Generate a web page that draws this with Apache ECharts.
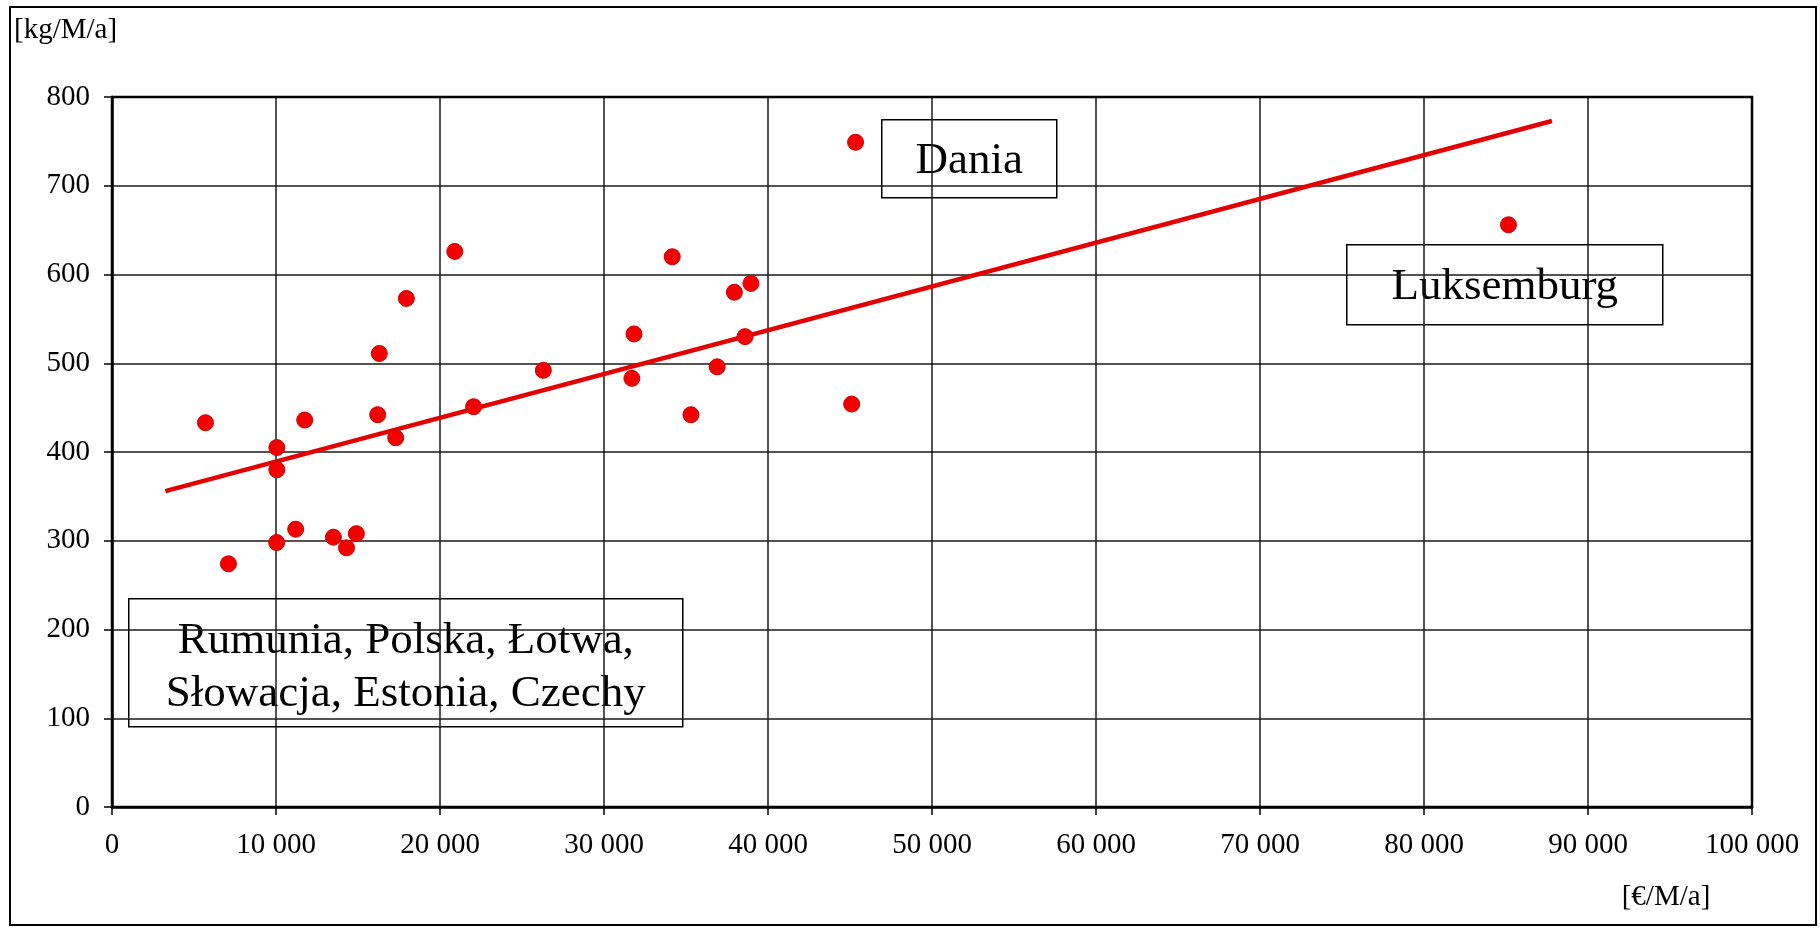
<!DOCTYPE html>
<html>
<head>
<meta charset="utf-8">
<script src="https://cdn.jsdelivr.net/npm/echarts@6/dist/echarts.min.js"></script>
<style>
html,body{margin:0;padding:0;background:#fff;}
#chart{width:1820px;height:928px;}
</style>
</head>
<body>
<div id="chart"></div>
<script>
// GDP per capita [€/M/a]
var gdpValues = [5700, 7100, 10050, 10050, 10040, 11200, 11750, 13500, 14300, 14900,
  16200, 16300, 17300, 17950, 20900, 22050, 26300, 31700, 31830, 34160,
  35300, 36900, 37950, 38600, 38960, 45100, 45340, 85150];
// Municipal waste [kg/M/a]
var wasteValues = [433, 274, 405, 380, 298, 313, 436, 304, 292, 308,
  442, 511, 416, 573, 626, 451, 492, 483, 533, 620,
  442, 496, 580, 530, 590, 454, 749, 656];
// Trend line endpoints
var trendX = [3250, 87800];
var trendY = [356, 773];
var xTickLabels = ['0', '10 000', '20 000', '30 000', '40 000', '50 000', '60 000', '70 000', '80 000', '90 000', '100 000'];
var yTickLabels = ['0', '100', '200', '300', '400', '500', '600', '700', '800'];
var annotations = ['Dania', 'Luksemburg', 'Rumunia, Polska, Łotwa,\nSłowacja, Estonia, Czechy'];
var yUnit = '[kg/M/a]';
var xUnit = '[€/M/a]';

var FONT = '"Liberation Serif", "DejaVu Serif", serif';
var points = gdpValues.map(function (v, i) { return [v, wasteValues[i]]; });
var trend = trendX.map(function (v, i) { return [v, trendY[i]]; });

var chart = echarts.init(document.getElementById('chart'));

function box(x, y, w, h, text, dy) {
  return {
    type: 'group', left: x, top: y, z: 100,
    children: [
      { type: 'rect', shape: { x: 0, y: 0, width: w, height: h },
        style: { fill: '#fff', stroke: '#000', lineWidth: 1.5 } },
      { type: 'text', x: w / 2, y: h / 2 + dy,
        style: { text: text, font: '45px ' + FONT, fill: '#000', align: 'center',
                 verticalAlign: 'middle', lineHeight: 53 } }
    ]
  };
}

chart.setOption({
  backgroundColor: '#fff',
  animation: false,
  grid: { left: 112, right: 68, top: 97, bottom: 121, show: true,
          borderColor: '#000', borderWidth: 2.5, backgroundColor: 'transparent', z: 3 },
  xAxis: {
    type: 'value', min: 0, max: 100000, interval: 10000,
    axisLine: { show: true, onZero: false, lineStyle: { color: '#000', width: 2.5 } },
    axisTick: { show: true, inside: false, length: 8, lineStyle: { color: '#000', width: 1.5 } },
    splitLine: { show: true, lineStyle: { color: '#1a1a1a', width: 1.5 } },
    axisLabel: { margin: 24, color: '#000', fontFamily: FONT, fontSize: 29,
      formatter: function (v) { return xTickLabels[Math.round(v / 10000)]; } }
  },
  yAxis: {
    type: 'value', min: 0, max: 800, interval: 100,
    axisLine: { show: true, lineStyle: { color: '#000', width: 2.5 } },
    axisTick: { show: true, inside: false, length: 8, lineStyle: { color: '#000', width: 1.5 } },
    splitLine: { show: true, lineStyle: { color: '#1a1a1a', width: 1.5 } },
    axisLabel: { margin: 22, color: '#000', fontFamily: FONT, fontSize: 29,
      formatter: function (v) { return yTickLabels[Math.round(v / 100)]; } }
  },
  series: [
    { type: 'line', data: trend, showSymbol: false, symbol: 'none', z: 4,
      lineStyle: { color: '#e30000', width: 4.5 }, silent: true },
    { type: 'scatter', data: points, symbol: 'circle', symbolSize: 16, z: 5,
      itemStyle: { color: '#f20000', borderColor: '#d00000', borderWidth: 1, opacity: 1 } }
  ],
  graphic: [
    { type: 'rect', shape: { x: 10, y: 7, width: 1806, height: 918 }, z: 0, silent: true,
      style: { fill: 'none', stroke: '#000', lineWidth: 2 } },
    { type: 'text', left: 14, top: 16, z: 100,
      style: { text: yUnit, font: '29px ' + FONT, fill: '#000' } },
    { type: 'text', x: 1666, y: 897, z: 100,
      style: { text: xUnit, font: '29px ' + FONT, fill: '#000', align: 'center', verticalAlign: 'middle' } },
    box(881, 119, 175, 78, annotations[0], 2),
    box(1346, 244, 316, 80, annotations[1], 2),
    box(128, 598, 554, 128, annotations[2], 5)
  ]
});
</script>
</body>
</html>
